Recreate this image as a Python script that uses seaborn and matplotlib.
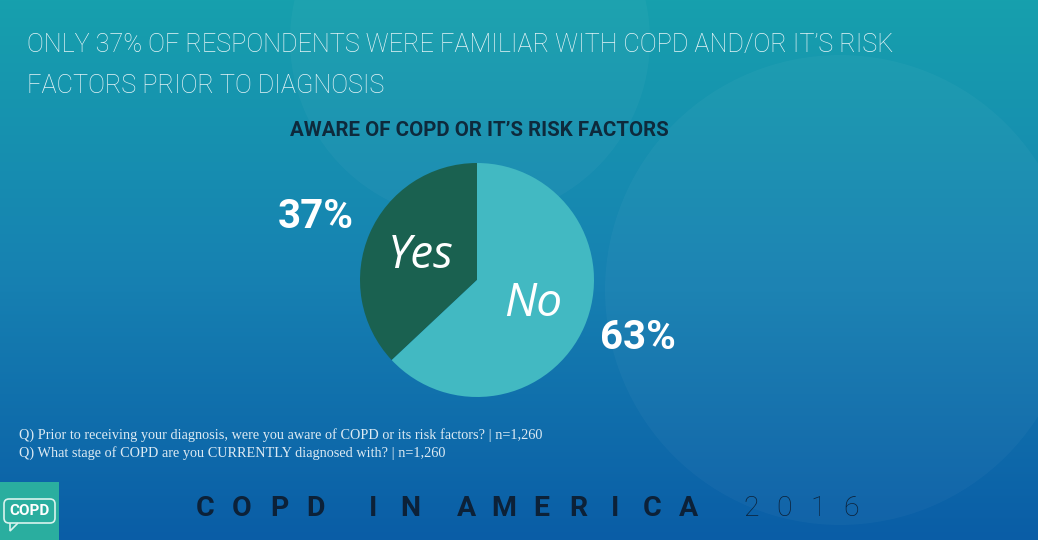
import numpy as np
import matplotlib.pyplot as plt
import seaborn as sns
from matplotlib.patches import Rectangle, FancyBboxPatch, Polygon, Circle

sns.set_theme(style="white")

# data
answers = ["Yes", "No"]
shares = [37, 63]
colours = ["#1a6150", "#42b9c2"]

title_lines = ["ONLY 37% OF RESPONDENTS WERE FAMILIAR WITH COPD AND/OR IT\u2019S RISK",
               "FACTORS PRIOR TO DIAGNOSIS"]
chart_title = "AWARE OF COPD OR IT\u2019S RISK FACTORS"
notes = ["Q) Prior to receiving your diagnosis, were you aware of COPD or its risk factors? | n=1,260",
         "Q) What stage of COPD are you CURRENTLY diagnosed with? | n=1,260"]

W, H = 1038, 540
fig = plt.figure(figsize=(W / 100, H / 100), dpi=100)

# background gradient
bg = fig.add_axes([0, 0, 1, 1])
top = np.array([0x16, 0xa0, 0xad]) / 255
mid = np.array([0x17, 0x82, 0xb2]) / 255
bot = np.array([0x0a, 0x5d, 0xa6]) / 255
t = np.linspace(0, 1, H)[:, None]
grad = np.where(t < 0.5, top + (mid - top) * (t / 0.5), mid + (bot - mid) * ((t - 0.5) / 0.5))
img = np.repeat(grad[:, None, :], W, axis=1)
bg.imshow(img, extent=[0, W, H, 0], aspect="auto")
bg.set_xlim(0, W)
bg.set_ylim(H, 0)
bg.axis("off")

# faint decorative shapes
for cx, cy, r in [(840, 290, 235), (470, 40, 180)]:
    bg.add_patch(Circle((cx, cy), r, color="white", alpha=0.03, lw=0))

# titles
bg.text(27, 45, title_lines[0], color="#e6f4f7", fontsize=18.2, family="Roboto",
        fontweight="light", va="center", ha="left")
bg.text(27, 86, title_lines[1], color="#e6f4f7", fontsize=18.2, family="Roboto",
        fontweight="light", va="center", ha="left")
bg.text(479, 130, chart_title, color="#0e2a3c", fontsize=14.8, family="Roboto",
        fontweight="bold", va="center", ha="center")

# footnotes
for i, line in enumerate(notes):
    bg.text(19, 435 + i * 18, line, color="#dceaf3", fontsize=10.3, family="Liberation Serif",
            va="center", ha="left")

# logo box
bg.add_patch(Rectangle((0, 482), 59, 58, color="#2aae9f", lw=0))
bg.add_patch(FancyBboxPatch((4, 499), 51, 24, boxstyle="round,pad=0,rounding_size=5",
                            fill=False, ec="#d9f3ee", lw=1.2))
bg.add_patch(Polygon([[10, 523], [10, 531], [18, 523]], closed=False, fill=False,
                     ec="#d9f3ee", lw=1.2))
bg.text(29.5, 511, "COPD", color="white", fontsize=11, family="Roboto", fontweight="bold",
        va="center", ha="center")

# footer lettering
footer = "COPD IN AMERICA"
x = 205
for ch in footer:
    if ch == " ":
        x += 20
        continue
    bg.text(x, 508, ch, color="#0c2138", fontsize=20.5, family="Roboto", fontweight="bold",
            va="center", ha="center")
    x += 37
x += 25
for ch in "2016":
    bg.text(x, 508, ch, color="#0c2138", fontsize=20.5, family="Roboto", fontweight="light",
            va="center", ha="center")
    x += 33.5

# pie
cx, cy, r = 477, 280, 117
ax = fig.add_axes([(cx - r) / W, (H - cy - r) / H, 2 * r / W, 2 * r / H])
wedges, texts = ax.pie(shares, labels=answers, colors=colours, startangle=90,
                       counterclock=True, labeldistance=0.52,
                       wedgeprops={"linewidth": 0},
                       textprops={"color": "white", "fontsize": 33, "family": "Open Sans",
                                  "fontstyle": "italic"})
for tx in texts:
    tx.set_ha("center")
    tx.set_va("center")
for w, v in zip(wedges, shares):
    ang = np.deg2rad((w.theta1 + w.theta2) / 2)
    nudge = -0.06 if np.cos(ang) < 0 else 0.10
    ax.text(1.5 * np.cos(ang), 1.5 * np.sin(ang) + nudge, f"{v}%",
            color="white", fontsize=29, family="Roboto", fontweight="bold",
            ha="center", va="center")
ax.set_xlim(-1, 1)
ax.set_ylim(-1, 1)
ax.axis("off")

fig.savefig("out.png", dpi=100)
